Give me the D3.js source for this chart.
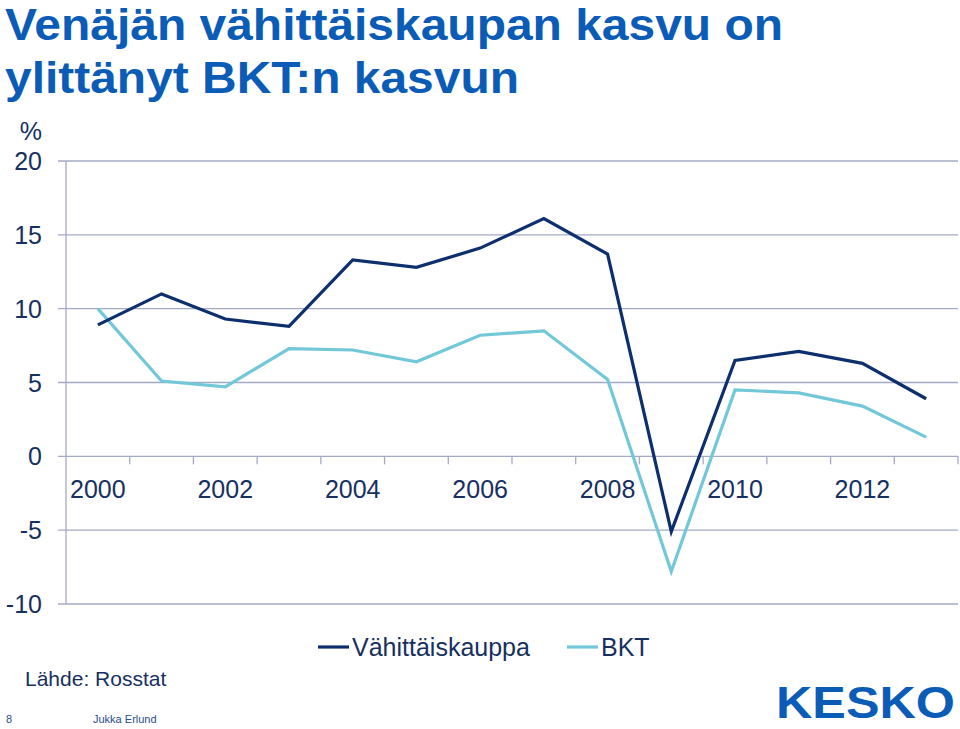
<!DOCTYPE html>
<html><head><meta charset="utf-8">
<script src="https://cdn.jsdelivr.net/npm/d3@7"></script>
<style>body{margin:0;background:#fff}svg{display:block}</style>
</head><body><svg id="c" width="960" height="729"></svg>
<script>
const years = [2000,2001,2002,2003,2004,2005,2006,2007,2008,2009,2010,2011,2012,2013];
const retail = [8.9,11.0,9.3,8.8,13.3,12.8,14.1,16.1,13.7,-5.1,6.5,7.1,6.3,3.9];
const gdp = [10.0,5.1,4.7,7.3,7.2,6.4,8.2,8.5,5.2,-7.8,4.5,4.3,3.4,1.3];
const yTicks = [20,15,10,5,0,-5,-10];
const xLabels = [2000,2002,2004,2006,2008,2010,2012];
const seriesNames = ["Vähittäiskauppa","BKT"];

(function(){
const svg = d3.select("#c");
const axisCol = "#a4aac6", textCol = "#17305f", darkCol = "#0e2f6d", lightCol = "#72c8d8", titleCol = "#0b5cb6";
const font = "'Liberation Sans', Arial, sans-serif";

const pL = 66, pR = 958, pT = 161, pB = 604;
const x = d3.scaleBand().domain(years).range([pL, pR]);
const y = d3.scaleLinear().domain([-10, 20]).range([pB, pT]);

// title
svg.append("text").attr("x",5).attr("y",40).attr("font-family",font).attr("font-weight","bold")
  .attr("font-size",44).attr("fill",titleCol).attr("textLength",778).attr("lengthAdjust","spacingAndGlyphs")
  .text("Venäjän vähittäiskaupan kasvu on");
svg.append("text").attr("x",5).attr("y",93).attr("font-family",font).attr("font-weight","bold")
  .attr("font-size",44).attr("fill",titleCol).attr("textLength",514).attr("lengthAdjust","spacingAndGlyphs")
  .text("ylittänyt BKT:n kasvun");

// gridlines
svg.append("g").selectAll("line").data(yTicks).join("line")
  .attr("x1",58).attr("x2",pR).attr("y1",d=>y(d)).attr("y2",d=>y(d))
  .attr("stroke",axisCol).attr("stroke-width",1.3);
// y axis line
svg.append("line").attr("x1",pL).attr("x2",pL).attr("y1",pT).attr("y2",pB)
  .attr("stroke",axisCol).attr("stroke-width",1.3);
// category ticks on zero line
const bounds = years.map(d=>x(d)+x.bandwidth());
svg.append("g").selectAll("line").data(bounds).join("line")
  .attr("x1",d=>d).attr("x2",d=>d).attr("y1",y(0)).attr("y2",y(0)+8)
  .attr("stroke",axisCol).attr("stroke-width",1.3);

// y labels
svg.append("g").selectAll("text").data(yTicks).join("text")
  .attr("x",42).attr("y",d=>y(d)+9).attr("text-anchor","end")
  .attr("font-family",font).attr("font-size",25).attr("fill",textCol).text(d=>d);
svg.append("text").attr("x",42).attr("y",140).attr("text-anchor","end")
  .attr("font-family",font).attr("font-size",25).attr("fill",textCol).text("%");

// x labels
svg.append("g").selectAll("text").data(xLabels).join("text")
  .attr("x",d=>x(d)+x.bandwidth()/2).attr("y",y(0)+42).attr("text-anchor","middle")
  .attr("font-family",font).attr("font-size",25).attr("fill",textCol).text(d=>d);

// lines
const line = d3.line().x((d,i)=>x(years[i])+x.bandwidth()/2).y(d=>y(d));
svg.append("path").datum(gdp).attr("d",line).attr("fill","none").attr("stroke",lightCol).attr("stroke-width",3.2);
svg.append("path").datum(retail).attr("d",line).attr("fill","none").attr("stroke",darkCol).attr("stroke-width",3.2);

// legend
const leg = [{n:seriesNames[0],c:darkCol,x:318},{n:seriesNames[1],c:lightCol,x:567}];
leg.forEach(l=>{
  svg.append("line").attr("x1",l.x).attr("x2",l.x+31).attr("y1",647).attr("y2",647).attr("stroke",l.c).attr("stroke-width",3.2);
  svg.append("text").attr("x",l.x+34).attr("y",656).attr("font-family",font).attr("font-size",25).attr("fill",textCol).text(l.n);
});

// footer
svg.append("text").attr("x",25).attr("y",686).attr("font-family",font).attr("font-size",21).attr("fill",textCol).text("Lähde: Rosstat");
svg.append("text").attr("x",6).attr("y",723).attr("font-family",font).attr("font-size",11).attr("fill","#2a4d8a").text("8");
svg.append("text").attr("x",93).attr("y",723).attr("font-family",font).attr("font-size",11).attr("fill","#2a4d8a").text("Jukka Erlund");
svg.append("text").attr("x",776).attr("y",718).attr("font-family",font).attr("font-weight","bold")
  .attr("font-size",44).attr("fill",titleCol).attr("textLength",179).attr("lengthAdjust","spacingAndGlyphs").text("KESKO");
})();
</script></body></html>
